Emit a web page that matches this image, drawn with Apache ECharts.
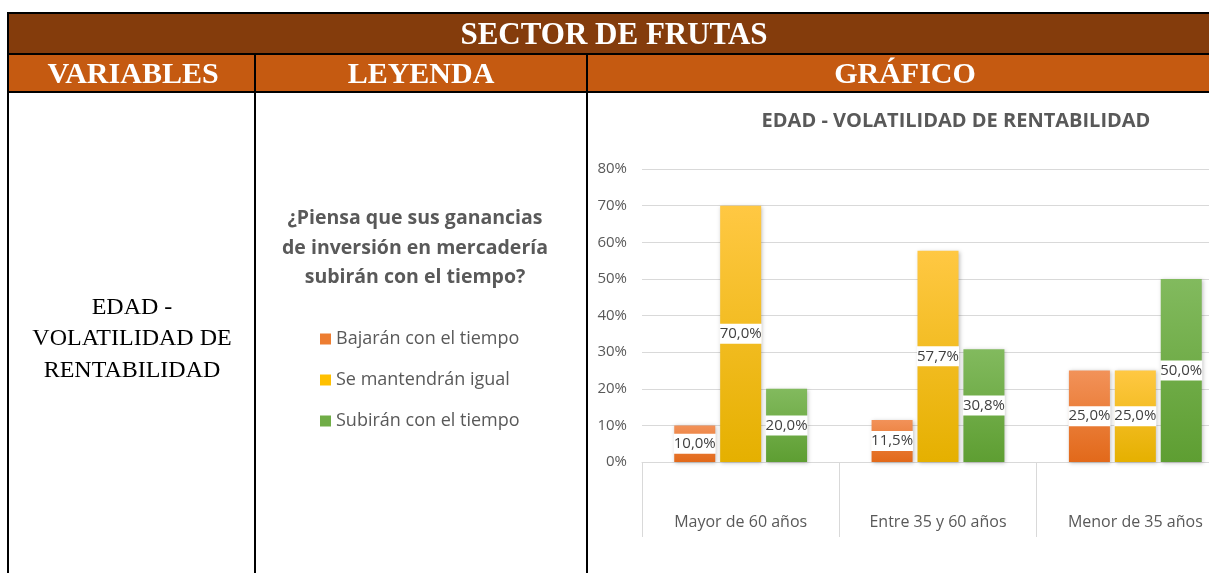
<!DOCTYPE html>
<html>
<head>
<meta charset="utf-8">
<title>Sector de frutas</title>
<script src="https://cdn.jsdelivr.net/npm/echarts@6/dist/echarts.min.js"></script>
<style>
  html, body { margin: 0; padding: 0; background: #fff; overflow: hidden; }
  /* la tabla original sigue a la derecha, por eso el lienzo es mas ancho que la ventana */
  #main { width: 1240px; height: 573px; }
</style>
</head>
<body>
<div id="main"></div>
<script>
// datos del grafico
var categorias = ['Mayor de 60 años', 'Entre 35 y 60 años', 'Menor de 35 años'];
var bajaran = [10.0, 11.5, 25.0];
var mantendran = [70.0, 57.7, 25.0];
var subiran = [20.0, 30.8, 50.0];
var nombresSeries = ['Bajarán con el tiempo', 'Se mantendrán igual', 'Subirán con el tiempo'];
var ejeY = { min: 0, max: 80, paso: 10 };

// textos de la tabla
var tituloTabla = 'SECTOR DE FRUTAS';
var encabezados = ['VARIABLES', 'LEYENDA', 'GRÁFICO'];
var variable = 'EDAD -\nVOLATILIDAD DE\nRENTABILIDAD';
var pregunta = '¿Piensa que sus ganancias\nde inversión en mercadería\nsubirán con el tiempo?';
var tituloGrafico = 'EDAD - VOLATILIDAD DE RENTABILIDAD';

var gris = '#595959';
var fuente = '"Open Sans", sans-serif';
var serif = '"Liberation Serif", "Times New Roman", serif';

function degradado(arriba, abajo) {
  return new echarts.graphic.LinearGradient(0, 0, 0, 1, [
    { offset: 0, color: arriba },
    { offset: 1, color: abajo }
  ]);
}

function etiqueta(p) {
  return p.value.toFixed(1).replace('.', ',') + '%';
}

function serie(nombre, datos, arriba, abajo) {
  return {
    name: nombre,
    type: 'bar',
    data: datos,
    barWidth: 41,
    barGap: '12%',
    itemStyle: {
      color: degradado(arriba, abajo),
      shadowBlur: 4,
      shadowColor: 'rgba(0,0,0,0.25)',
      shadowOffsetX: 1,
      shadowOffsetY: 1
    },
    label: {
      show: true,
      position: 'inside',
      formatter: etiqueta,
      color: '#404040',
      fontFamily: fuente,
      fontSize: 15,
      backgroundColor: '#fff',
      padding: [3, 0, 2, 0]
    }
  };
}

var negro = '#000';
var chart = echarts.init(document.getElementById('main'), null, { renderer: 'canvas' });

var option = {
  animation: false,
  backgroundColor: '#fff',
  textStyle: { fontFamily: fuente },
  title: [{
    text: tituloGrafico,
    left: 956,
    top: 111,
    textAlign: 'center',
    padding: 0,
    textStyle: { color: gris, fontSize: 20, fontWeight: 'bold', fontFamily: fuente }
  }, {
    text: pregunta,
    left: 415,
    top: 204,
    textAlign: 'center',
    padding: 0,
    textStyle: { color: gris, fontSize: 19.5, fontWeight: 'bold', lineHeight: 29.5, fontFamily: fuente }
  }],
  legend: {
    orient: 'vertical',
    left: 320,
    top: 329,
    padding: 0,
    itemWidth: 11,
    itemHeight: 11,
    itemGap: 21,
    icon: 'rect',
    textStyle: { color: gris, fontSize: 18, lineHeight: 20, fontFamily: fuente },
    data: [
      { name: nombresSeries[0], itemStyle: { color: '#ED7D31' } },
      { name: nombresSeries[1], itemStyle: { color: '#FFC000' } },
      { name: nombresSeries[2], itemStyle: { color: '#70AD47' } }
    ]
  },
  grid: { left: 642, right: 6, top: 169, bottom: 111 },
  xAxis: {
    type: 'category',
    data: categorias,
    axisLine: { lineStyle: { color: '#D9D9D9', width: 1 } },
    axisTick: { show: true, length: 75, interval: 0, lineStyle: { color: '#D9D9D9' } },
    axisLabel: { color: gris, fontSize: 16, margin: 52, fontFamily: fuente }
  },
  yAxis: {
    type: 'value',
    min: ejeY.min,
    max: ejeY.max,
    interval: ejeY.paso,
    axisLine: { show: false },
    axisTick: { show: false },
    axisLabel: { color: gris, fontSize: 15, margin: 15, formatter: '{value}%', fontFamily: fuente },
    splitLine: { lineStyle: { color: '#D9D9D9', width: 1 } }
  },
  series: [
    serie(nombresSeries[0], bajaran, '#F29259', '#E2691A'),
    serie(nombresSeries[1], mantendran, '#FFC843', '#E5B000'),
    serie(nombresSeries[2], subiran, '#82BA5E', '#5E9E32')
  ],
  graphic: [
    // fondos de encabezado
    { type: 'rect', z: 0, shape: { x: 8, y: 14, width: 1232, height: 40 }, style: { fill: '#843C0C' } },
    { type: 'rect', z: 0, shape: { x: 8, y: 55, width: 1232, height: 36 }, style: { fill: '#C55A11' } },
    // bordes
    { type: 'rect', z: 1, shape: { x: 7, y: 12, width: 1233, height: 2 }, style: { fill: negro } },
    { type: 'rect', z: 1, shape: { x: 7, y: 53, width: 1233, height: 2 }, style: { fill: negro } },
    { type: 'rect', z: 1, shape: { x: 7, y: 91, width: 1233, height: 2 }, style: { fill: negro } },
    { type: 'rect', z: 1, shape: { x: 7, y: 12, width: 2, height: 561 }, style: { fill: negro } },
    { type: 'rect', z: 1, shape: { x: 254, y: 53, width: 2, height: 520 }, style: { fill: negro } },
    { type: 'rect', z: 1, shape: { x: 586, y: 53, width: 2, height: 520 }, style: { fill: negro } },
    // textos
    { type: 'text', z: 2, x: 614, y: 36, style: { text: tituloTabla, fill: '#fff', font: 'bold 31px ' + serif, align: 'center', verticalAlign: 'middle' } },
    { type: 'text', z: 2, x: 133, y: 75, style: { text: encabezados[0], fill: '#fff', font: 'bold 30px ' + serif, align: 'center', verticalAlign: 'middle' } },
    { type: 'text', z: 2, x: 421, y: 75, style: { text: encabezados[1], fill: '#fff', font: 'bold 30px ' + serif, align: 'center', verticalAlign: 'middle' } },
    { type: 'text', z: 2, x: 905, y: 75, style: { text: encabezados[2], fill: '#fff', font: 'bold 30px ' + serif, align: 'center', verticalAlign: 'middle' } },
    { type: 'text', z: 2, x: 132, y: 339, style: { text: variable, fill: '#000', fontFamily: serif, fontSize: 24, lineHeight: 31.5, align: 'center', verticalAlign: 'middle' } }
  ]
};
chart.setOption(option);
</script>
</body>
</html>
